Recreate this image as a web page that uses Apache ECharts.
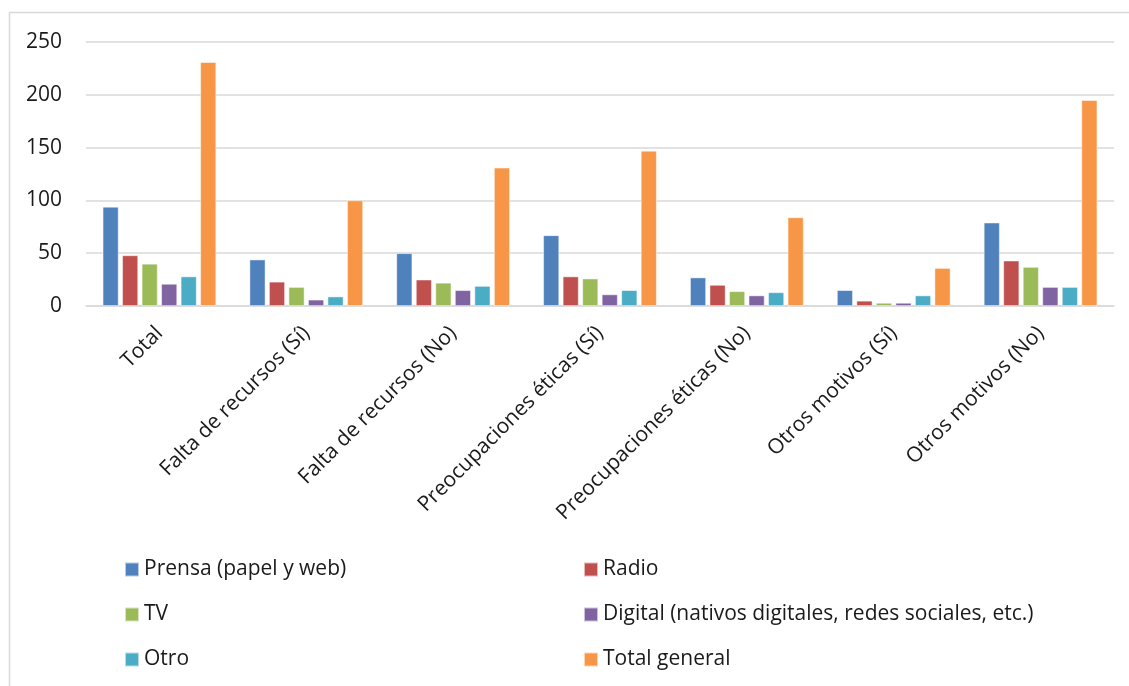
<!DOCTYPE html>
<html>
<head>
<meta charset="utf-8">
<script src="https://cdn.jsdelivr.net/npm/echarts@6/dist/echarts.min.js"></script>
<style>
html,body{margin:0;padding:0;background:#fff;}
#c{width:1129px;height:686px;}
</style>
</head>
<body>
<div id="c"></div>
<script>
var categories = ['Total','Falta de recursos (Sí)','Falta de recursos (No)','Preocupaciones éticas (Sí)','Preocupaciones éticas (No)','Otros motivos (Sí)','Otros motivos (No)'];
var prensa  = [94, 44, 50, 67, 27, 15, 79];
var radio   = [48, 23, 25, 28, 20, 5, 43];
var tv      = [40, 18, 22, 26, 14, 3, 37];
var digital = [21, 6, 15, 11, 10, 3, 18];
var otro    = [28, 9, 19, 15, 13, 10, 18];
var totalGeneral = [231, 100, 131, 147, 84, 36, 195];
var seriesNames = ['Prensa (papel y web)','Radio','TV','Digital (nativos digitales, redes sociales, etc.)','Otro','Total general'];
var yTicks = [0, 50, 100, 150, 200, 250];

var colors = ['#4F81BD','#C0504D','#9BBB59','#8064A2','#4BACC6','#F79646'];
var FONT = '"Open Sans", sans-serif';
var dataSets = [prensa, radio, tv, digital, otro, totalGeneral];

var chart = echarts.init(document.getElementById('c'), null, {renderer:'canvas'});
var series = dataSets.map(function(d, i){
  return {
    name: seriesNames[i],
    type: 'bar',
    data: d,
    barWidth: 16,
    barGap: '22%',
    itemStyle: {color: colors[i], borderColor: 'rgba(255,255,255,0.6)', borderWidth: 0.8},
    emphasis: {disabled: true}
  };
});

var legendCommon = {
  orient: 'vertical',
  padding: 0,
  itemWidth: 14,
  itemHeight: 14,
  itemGap: 24,
  icon: 'rect',
  textStyle: {fontFamily: FONT, fontSize: 21, color: '#1a1a1a', lineHeight: 20},
  selectedMode: false
};

chart.setOption({
  animation: false,
  color: colors,
  textStyle: {fontFamily: FONT},
  graphic: [{
    type: 'rect',
    shape: {x: 9.5, y: 12.5, width: 1200, height: 800},
    style: {fill: 'none', stroke: '#d9d9d9', lineWidth: 1.5},
    silent: true
  }],
  grid: {left: 86, right: 15, top: 42, bottom: 380, containLabel: false},
  legend: [
    Object.assign({left: 124, top: 559, data: [seriesNames[0], seriesNames[2], seriesNames[4]]}, legendCommon),
    Object.assign({left: 583, top: 559, data: [seriesNames[1], seriesNames[3], seriesNames[5]]}, legendCommon)
  ],
  xAxis: {
    type: 'category',
    data: categories,
    axisLine: {show: true, lineStyle: {color: '#d9d9d9', width: 1.5}},
    axisTick: {show: false},
    axisLabel: {rotate: 45, margin: 24, interval: 0, fontFamily: FONT, fontSize: 21, color: '#1a1a1a'}
  },
  yAxis: {
    type: 'value',
    min: yTicks[0],
    max: yTicks[yTicks.length - 1],
    interval: yTicks[1] - yTicks[0],
    axisLine: {show: false},
    axisTick: {show: false},
    splitLine: {show: true, lineStyle: {color: '#d9d9d9', width: 1.5}},
    axisLabel: {margin: 24, fontFamily: FONT, fontSize: 21, color: '#1a1a1a'}
  },
  series: series
});
</script>
</body>
</html>
